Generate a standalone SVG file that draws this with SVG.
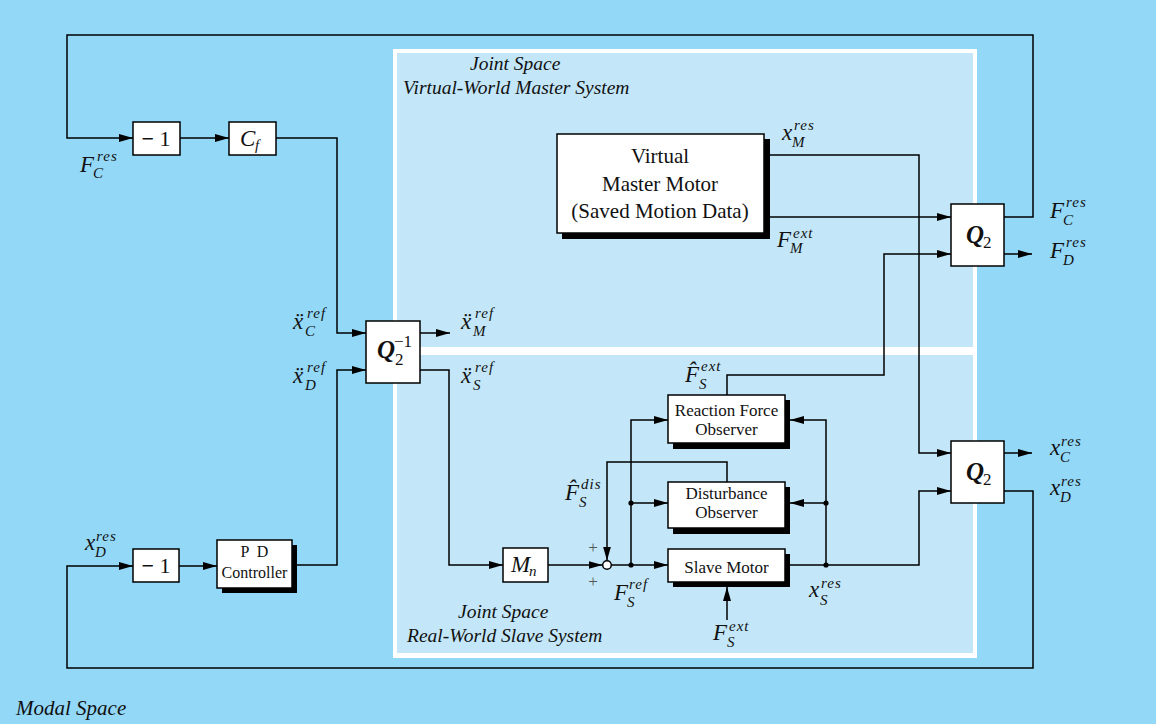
<svg xmlns="http://www.w3.org/2000/svg" width="1156" height="724" viewBox="0 0 1156 724">
<defs>
<marker id="ah" viewBox="0 0 14 8" refX="14" refY="4" markerWidth="14" markerHeight="8" orient="auto" markerUnits="userSpaceOnUse"><path d="M0,0 L14,4 L0,8 Z" fill="#000"/></marker>
</defs>
<style>
.bg{fill:#93d8f7}
.panel{fill:#c3e7f8}
.box{fill:#fff;stroke:#000;stroke-width:1.5}
.sh{fill:#000}
.ln{fill:none;stroke:#000;stroke-width:1.5}
.ar{marker-end:url(#ah)}
text{font-family:"Liberation Serif","DejaVu Serif",serif;fill:#111}
.m{font-size:23px;font-style:italic}
.s{font-size:15px;font-style:italic;letter-spacing:1px}
.bt{font-size:21px;text-anchor:middle}
.st{font-size:17px;text-anchor:middle}
.cap{font-size:19.5px;font-style:italic}
.pl{font-size:17px;fill:#555}
</style>
<rect class="bg" x="0" y="0" width="1156" height="724"/>
<rect x="393" y="49" width="584" height="609" fill="#fff"/>
<rect class="panel" x="397" y="53" width="576" height="294"/>
<rect class="panel" x="397" y="355" width="576" height="298"/>
<text class="cap" x="470" y="70">Joint Space</text>
<text class="cap" x="403" y="94">Virtual-World Master System</text>
<text class="cap" x="458" y="618">Joint Space</text>
<text class="cap" x="407" y="642">Real-World Slave System</text>
<text class="cap" x="16" y="715" style="font-size:21px">Modal Space</text>

<g id="connectors">
<path class="ln ar" d="M1004,217 H1033 V35 H67 V138 H133"/>
<path class="ln ar" d="M180,138 H229"/>
<path class="ln ar" d="M276,138 H337 V333 H366"/>
<path class="ln ar" d="M420,333 H450"/>
<path class="ln ar" d="M420,370 H449 V565 H503"/>
<path class="ln ar" d="M548,565 H602.5"/>
<path class="ln ar" d="M611,565 H668"/>
<path class="ln ar" d="M631,565 V420 H668"/>
<path class="ln ar" d="M631,503 H668"/>
<path class="ln ar" d="M790,565 H919 V491 H951"/>
<path class="ln ar" d="M826,565 V420 H790"/>
<path class="ln ar" d="M826,503 H790"/>
<path class="ln ar" d="M727,482 V462 H607 V560.5"/>
<path class="ln ar" d="M727,395 V375 H884 V254 H951"/>
<path class="ln ar" d="M770,155 H919 V453 H951"/>
<path class="ln ar" d="M770,217 H951"/>
<path class="ln ar" d="M1004,254 H1032"/>
<path class="ln ar" d="M1004,453 H1032"/>
<path class="ln ar" d="M1004,491 H1033 V668 H67 V566 H133"/>
<path class="ln ar" d="M179,566 H217"/>
<path class="ln ar" d="M297,565 H337 V370 H366"/>
<path class="ln ar" d="M727,620 V587"/>
<circle cx="631" cy="565" r="2.6"/>
<circle cx="631" cy="503" r="2.6"/>
<circle cx="826" cy="565" r="2.6"/>
<circle cx="826" cy="503" r="2.6"/>
<circle cx="607" cy="565" r="4.3" fill="#fff" stroke="#000" stroke-width="1.5"/>
<text class="pl" x="593" y="553" text-anchor="middle">+</text>
<text class="pl" x="593" y="587" text-anchor="middle">+</text>
</g>

<g id="neg1-top">
<rect class="box" x="133" y="122" width="47" height="33"/>
<text x="156" y="146" text-anchor="middle" style="font-size:22px"><tspan font-weight="bold">−</tspan> 1</text>
</g>
<g id="cf">
<rect class="box" x="229" y="122" width="47" height="33"/>
<text class="m" x="240" y="146">C</text><text class="s" x="255" y="150">f</text>
</g>
<g id="q2inv">
<rect class="box" x="366" y="321" width="54" height="62"/>
<text class="m" x="377" y="358" font-weight="bold" style="font-size:25px">Q</text>
<text x="395" y="365" style="font-size:17px">2</text>
<text x="394" y="347" style="font-size:17px">−1</text>
</g>
<g id="vmm">
<rect class="sh" x="562" y="139" width="208" height="100"/>
<rect class="box" x="557" y="134" width="207" height="99"/>
<text class="bt" x="660" y="163">Virtual</text>
<text class="bt" x="660" y="191">Master Motor</text>
<text class="bt" x="660" y="218">(Saved Motion Data)</text>
</g>
<g id="q2-top">
<rect class="box" x="951" y="204" width="53" height="62"/>
<text class="m" x="966" y="243" font-weight="bold" style="font-size:25px">Q</text>
<text x="983" y="248" style="font-size:17px">2</text>
</g>
<g id="q2-bottom">
<rect class="box" x="951" y="441" width="53" height="62"/>
<text class="m" x="966" y="480" font-weight="bold" style="font-size:25px">Q</text>
<text x="983" y="485" style="font-size:17px">2</text>
</g>
<g id="rfo">
<rect class="sh" x="673" y="400" width="117" height="49"/>
<rect class="box" x="668" y="395" width="117" height="48"/>
<text class="st" x="726.5" y="416">Reaction Force</text>
<text class="st" x="726.5" y="435">Observer</text>
</g>
<g id="dob">
<rect class="sh" x="673" y="487" width="117" height="47"/>
<rect class="box" x="668" y="482" width="117" height="46"/>
<text class="st" x="726.5" y="499">Disturbance</text>
<text class="st" x="726.5" y="518">Observer</text>
</g>
<g id="slave">
<rect class="sh" x="673" y="554" width="117" height="33"/>
<rect class="box" x="668" y="549" width="117" height="33"/>
<text class="st" x="726.5" y="573">Slave Motor</text>
</g>
<g id="mn">
<rect class="box" x="503" y="548" width="45" height="34"/>
<text class="m" x="511" y="572">M</text><text class="s" x="529" y="576">n</text>
</g>
<g id="neg1-bottom">
<rect class="box" x="133" y="549" width="46" height="33"/>
<text x="156" y="573" text-anchor="middle" style="font-size:22px"><tspan font-weight="bold">−</tspan> 1</text>
</g>
<g id="pd">
<rect class="sh" x="222" y="545" width="75" height="48"/>
<rect class="box" x="217" y="540" width="75" height="48"/>
<text class="st" x="254.5" y="557" style="font-size:16px" xml:space="preserve">P  D</text>
<text class="st" x="254.5" y="578" style="font-size:16px">Controller</text>
</g>

<g id="labels">
<text class="m" x="80" y="172">F</text><text class="s" x="97" y="161">res</text><text class="s" x="93" y="178">C</text>
<text class="m" x="293" y="329">ẍ</text><text class="s" x="307" y="318">ref</text><text class="s" x="305" y="336">C</text>
<text class="m" x="293" y="383">ẍ</text><text class="s" x="307" y="372">ref</text><text class="s" x="305" y="390">D</text>
<text class="m" x="461" y="329">ẍ</text><text class="s" x="475" y="318">ref</text><text class="s" x="473" y="336">M</text>
<text class="m" x="461" y="383">ẍ</text><text class="s" x="475" y="372">ref</text><text class="s" x="473" y="390">S</text>
<text class="m" x="782" y="140">x</text><text class="s" x="794" y="130">res</text><text class="s" x="792" y="147">M</text>
<text class="m" x="777" y="247">F</text><text class="s" x="793" y="238">ext</text><text class="s" x="790" y="253">M</text>
<text class="m" x="1050" y="218">F</text><text class="s" x="1066" y="207">res</text><text class="s" x="1063" y="225">C</text>
<text class="m" x="1050" y="258">F</text><text class="s" x="1066" y="247">res</text><text class="s" x="1063" y="265">D</text>
<text class="m" x="685" y="382">F̂</text><text class="s" x="701" y="371">ext</text><text class="s" x="699" y="389">S</text>
<text class="m" x="565" y="500">F̂</text><text class="s" x="581" y="489">dis</text><text class="s" x="579" y="507">S</text>
<text class="m" x="614" y="600">F</text><text class="s" x="629" y="589">ref</text><text class="s" x="627" y="607">S</text>
<text class="m" x="809" y="597">x</text><text class="s" x="821" y="588">res</text><text class="s" x="820" y="605">S</text>
<text class="m" x="713" y="640">F</text><text class="s" x="729" y="631">ext</text><text class="s" x="727" y="647">S</text>
<text class="m" x="1050" y="455">x</text><text class="s" x="1061" y="446">res</text><text class="s" x="1060" y="462">C</text>
<text class="m" x="1050" y="495">x</text><text class="s" x="1061" y="486">res</text><text class="s" x="1060" y="502">D</text>
<text class="m" x="85" y="550">x</text><text class="s" x="96" y="541">res</text><text class="s" x="95" y="557">D</text>
</g>
</svg>
